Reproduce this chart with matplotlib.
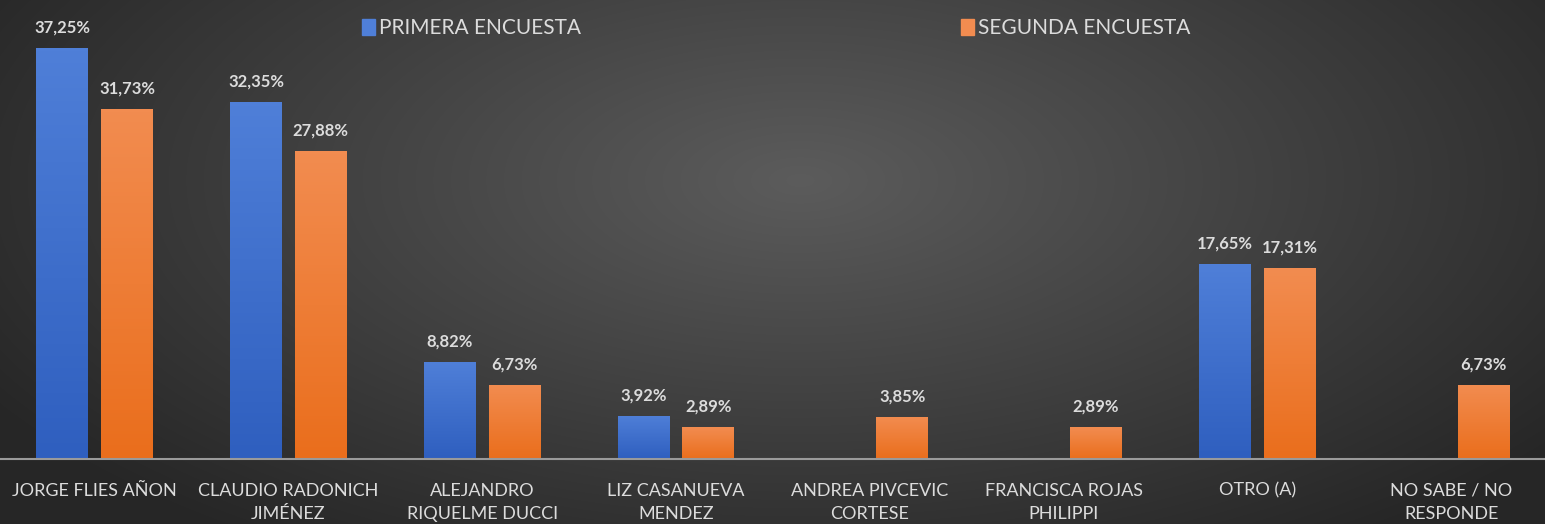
import numpy as np
import matplotlib
matplotlib.use("Agg")
import matplotlib.pyplot as plt
from matplotlib.patches import Patch

plt.rcParams["font.family"] = ["Liberation Sans Narrow", "Lato", "DejaVu Sans"]

# datos
categorias = ["JORGE FLIES AÑON", "CLAUDIO RADONICH\nJIMÉNEZ", "ALEJANDRO\nRIQUELME DUCCI",
              "LIZ CASANUEVA\nMENDEZ", "ANDREA PIVCEVIC\nCORTESE", "FRANCISCA ROJAS\nPHILIPPI",
              "OTRO (A)", "NO SABE / NO\nRESPONDE"]
primera = [37.25, 32.35, 8.82, 3.92, np.nan, np.nan, 17.65, np.nan]
segunda = [31.73, 27.88, 6.73, 2.89, 3.85, 2.89, 17.31, 6.73]
series = ["PRIMERA ENCUESTA", "SEGUNDA ENCUESTA"]

azul_top, azul_bot = "#4f7fd8", "#2f5fbf"
nar_top, nar_bot = "#f28c50", "#ea6e1c"
txt = "#dcdcdc"

fig = plt.figure(figsize=(15.45, 5.24), dpi=100)

# fondo con degradado radial
bg = fig.add_axes([0, 0, 1, 1], zorder=-10)
yy, xx = np.mgrid[0:524, 0:1545]
r = np.sqrt(((xx - 800) / 900.0) ** 2 + ((yy - 180) / 420.0) ** 2)
g = np.clip(0.36 - 0.2 * r, 0.15, 0.36)
bg.imshow(np.dstack([g, g, g]), aspect="auto", extent=[0, 1, 0, 1])
bg.axis("off")

ax = fig.add_axes([0, 65 / 524, 1, 459 / 524])
ax.patch.set_alpha(0)
x = np.arange(len(categorias))
w = 0.268
off = 0.167


def grad_bars(bars, top, bot):
    cmap = matplotlib.colors.LinearSegmentedColormap.from_list("g", [bot, top])
    grad = np.linspace(0, 1, 100).reshape(-1, 1)
    for b in bars:
        if np.isnan(b.get_height()) or b.get_height() == 0:
            continue
        x0, y0 = b.get_x(), b.get_y()
        im = ax.imshow(grad, cmap=cmap, aspect="auto", origin="lower",
                       extent=[x0, x0 + b.get_width(), y0, y0 + b.get_height()], zorder=2)
        im.set_clip_path(b)


b1 = ax.bar(x - off, primera, w, color=azul_top, zorder=1, linewidth=0)
b2 = ax.bar(x + off, segunda, w, color=nar_top, zorder=1, linewidth=0)
grad_bars(b1, azul_top, azul_bot)
grad_bars(b2, nar_top, nar_bot)

for xs, vals in ((x - off, primera), (x + off, segunda)):
    for xi, v in zip(xs, vals):
        if np.isnan(v):
            continue
        ax.annotate(f"{v:.2f}%".replace(".", ","), (xi, v), xytext=(0, 9),
                    textcoords="offset points", ha="center", va="bottom",
                    color=txt, fontsize=12, fontweight="bold")

ax.set_xlim(-0.488, 7.484)
ax.set_ylim(0, 41.6)
ax.set_yticks([])
ax.set_xticks(x)
ax.set_xticklabels(categorias, color=txt, fontsize=13, linespacing=1.6)
ax.tick_params(axis="x", length=0, pad=17)
for s in ["top", "right", "left"]:
    ax.spines[s].set_visible(False)
ax.spines["bottom"].set_color("#9a9a9a")
ax.spines["bottom"].set_linewidth(1.5)

# leyenda: una entrada en cada posicion
for col, lab, xpos in ((azul_top, series[0], 362), (nar_top, series[1], 961)):
    fig.legend([Patch(color=col)], [lab], loc="center left",
               bbox_to_anchor=(xpos / 1545, 1 - 28 / 524), frameon=False,
               borderaxespad=0, borderpad=0, fontsize=15, labelcolor=txt,
               handlelength=0.6, handleheight=0.8, handletextpad=0.2)

fig.savefig("out.png", dpi=100)
